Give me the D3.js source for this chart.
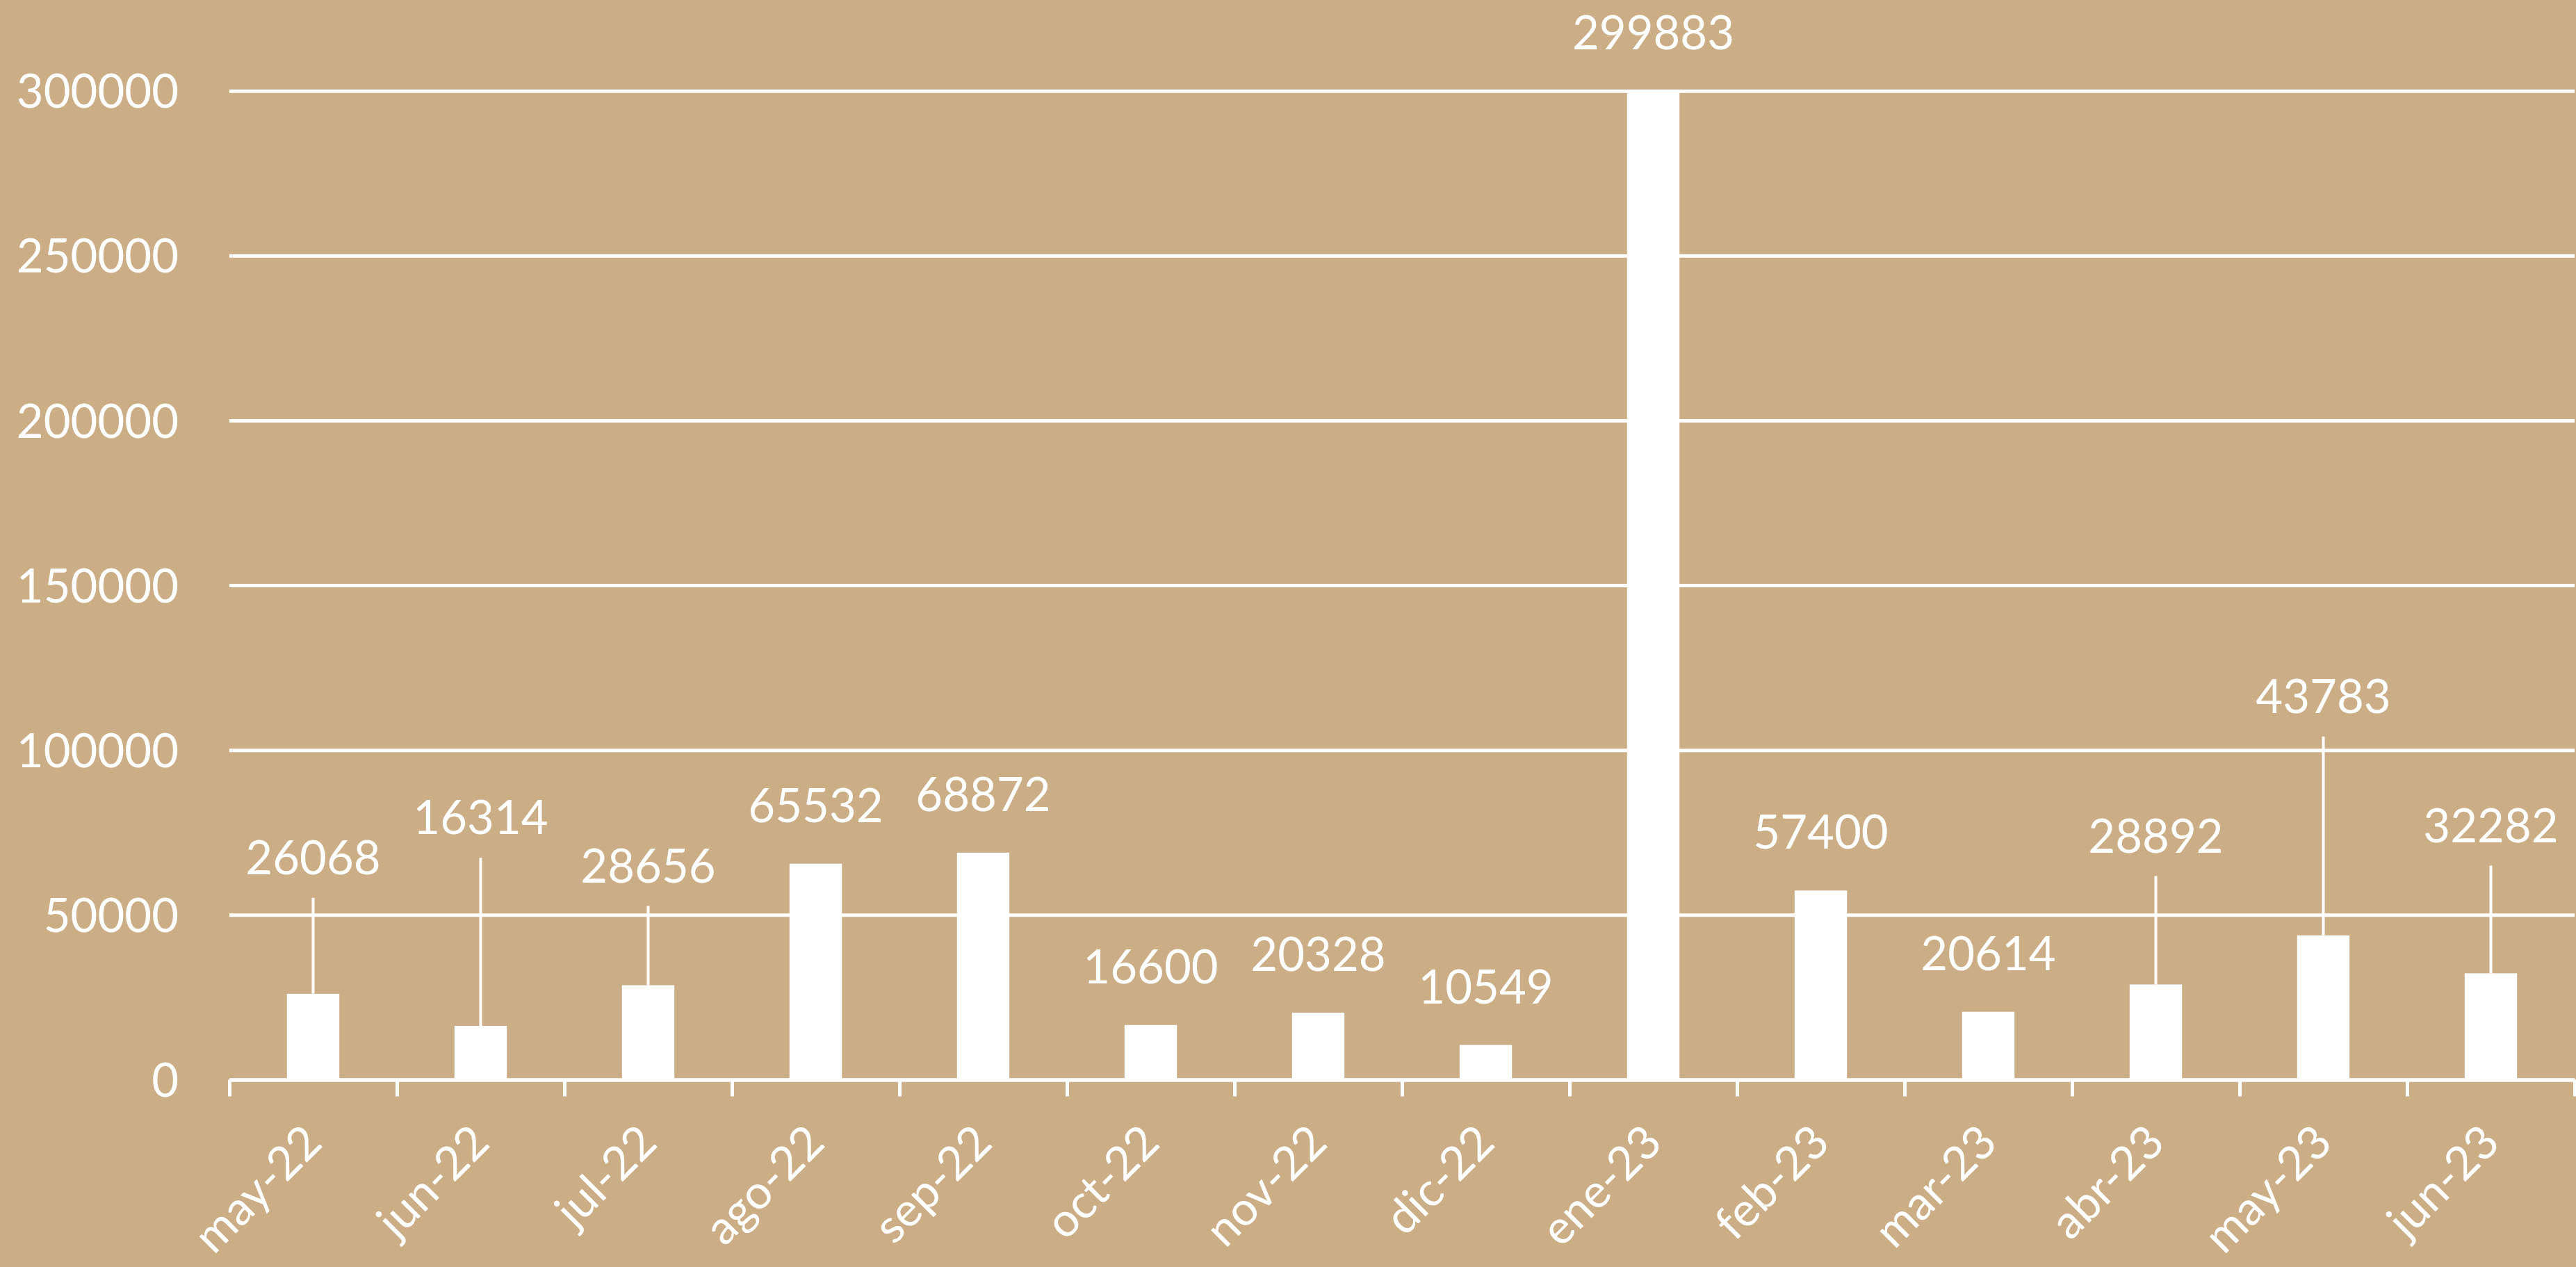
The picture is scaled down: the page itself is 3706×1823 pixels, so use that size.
<!DOCTYPE html>
<html>
<head>
<meta charset="utf-8">
<script src="https://cdn.jsdelivr.net/npm/d3@7"></script>
<style>
  html, body { margin: 0; padding: 0; background: #CBAD86; }
  svg text { font-family: Lato, "Open Sans", sans-serif; fill: #fff; }
</style>
</head>
<body>
<div id="chart"></div>
<script>
const months = ["may-22", "jun-22", "jul-22", "ago-22", "sep-22", "oct-22", "nov-22",
    "dic-22", "ene-23", "feb-23", "mar-23", "abr-23", "may-23", "jun-23"];
const values = [26068, 16314, 28656, 65532, 68872, 16600, 20328,
    10549, 299883, 57400, 20614, 28892, 43783, 32282];
const yTicks = [0, 50000, 100000, 150000, 200000, 250000, 300000];

// labels that were dragged up in the original (extra lift in px, leader line drawn)
const labelLift = [112, 216, 88, 0, 0, 0, 0, 0, 0, 0, 0, 130, 260, 129];

const width = 3706;
const height = 1823;
const plotLeft = 330;
const plotRight = 3704;
const plotTop = 130.7;
const plotBottom = 1553.5;
const fontSize = 67;
const labelGap = 84;

const svg = d3.select("#chart")
    .append("svg")
        .attr("width", width)
        .attr("height", height)
        .attr("viewBox", [0, 0, width, height]);

svg.append("rect")
    .attr("width", width)
    .attr("height", height)
    .attr("fill", "#CBAD86");

const x = d3.scaleBand()
    .domain(months)
    .range([plotLeft, plotRight])
    .paddingInner(0.687)
    .paddingOuter(0.3435);

const y = d3.scaleLinear()
    .domain([0, 300000])
    .range([plotBottom, plotTop]);

// gridlines + y labels
const yAxis = svg.append("g")
    .attr("transform", `translate(${plotLeft},0)`)
    .call(d3.axisLeft(y)
        .tickValues(yTicks)
        .tickFormat(d3.format("d"))
        .tickSize(-(plotRight - plotLeft))
        .tickPadding(73));
yAxis.select(".domain").remove();
yAxis.selectAll("line").attr("stroke", "#fff").attr("stroke-width", 5);
yAxis.selectAll("text")
    .attr("font-size", fontSize)
    .attr("dy", "0.36em")
    .attr("fill", "#fff");

// x axis, ticks sit between the categories
const edges = d3.scaleLinear().domain([0, months.length]).range([plotLeft, plotRight]);
const xAxis = svg.append("g")
    .attr("transform", `translate(0,${plotBottom})`)
    .call(d3.axisBottom(edges)
        .tickValues(d3.range(months.length + 1))
        .tickFormat("")
        .tickSize(24)
        .tickSizeOuter(0));
xAxis.select(".domain").attr("stroke", "#fff").attr("stroke-width", 5);
xAxis.selectAll("line").attr("stroke", "#fff").attr("stroke-width", 5);

// bars
svg.append("g").selectAll("rect")
    .data(values)
    .join("rect")
        .attr("x", (d, i) => x(months[i]))
        .attr("y", d => y(d))
        .attr("width", x.bandwidth())
        .attr("height", d => y(0) - y(d))
        .attr("fill", "#fff");

const cx = i => x(months[i]) + x.bandwidth() / 2;
const labelY = (d, i) => y(d) - labelGap - labelLift[i];

// leader lines
svg.append("g").selectAll("line")
    .data(values.map((v, i) => ({ v, i })).filter(d => labelLift[d.i] > 30))
    .join("line")
        .attr("x1", d => cx(d.i))
        .attr("x2", d => cx(d.i))
        .attr("y1", d => labelY(d.v, d.i) + 58)
        .attr("y2", d => y(d.v))
        .attr("stroke", "#fff")
        .attr("stroke-width", 4);

// data labels
svg.append("g").selectAll("text")
    .data(values)
    .join("text")
        .attr("x", (d, i) => cx(i))
        .attr("y", (d, i) => labelY(d, i))
        .attr("dy", "0.36em")
        .attr("text-anchor", "middle")
        .attr("font-size", fontSize)
        .text(d => d);

// category labels
svg.append("g").selectAll("text")
    .data(months)
    .join("text")
        .attr("transform", (d, i) => `translate(${cx(i) + 16},${plotBottom + 94}) rotate(-45)`)
        .attr("text-anchor", "end")
        .attr("font-size", fontSize)
        .text(d => d);
</script>
</body>
</html>
